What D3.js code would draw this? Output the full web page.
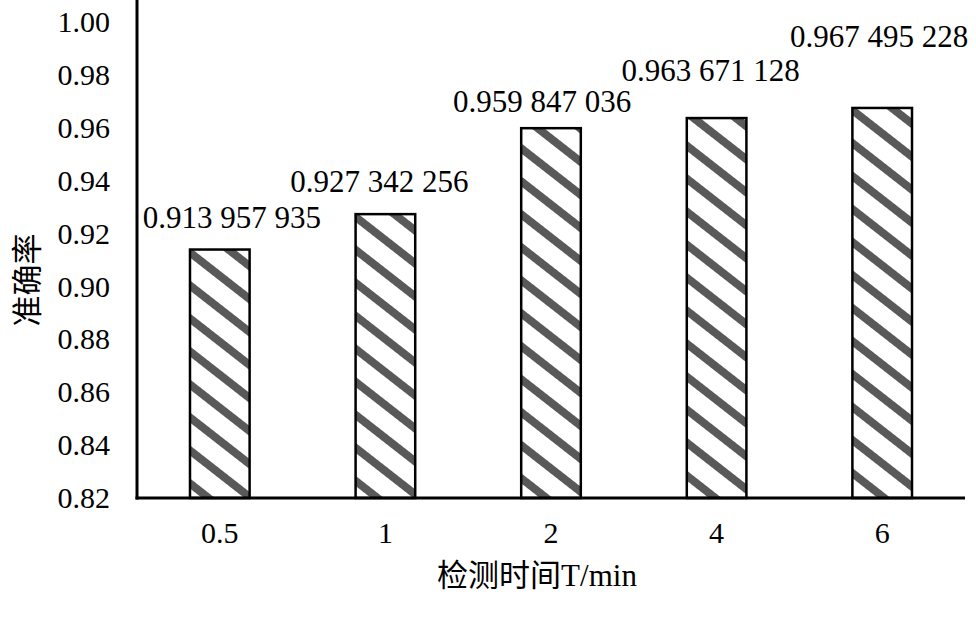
<!DOCTYPE html>
<html>
<head>
<meta charset="utf-8">
<script src="https://cdn.jsdelivr.net/npm/d3@7"></script>
<style>
  body { margin: 0; background: #fff; }
  text { font-family: "Liberation Serif", "Noto Sans CJK SC", serif; fill: #000; }
</style>
</head>
<body>
<div id="chart-area"></div>
<script>
// data
var times = ["0.5", "1", "2", "4", "6"];
var accuracy = [0.913957935, 0.927342256, 0.959847036, 0.963671128, 0.967495228];
var valueLabels = ["0.913 957 935", "0.927 342 256", "0.959 847 036", "0.963 671 128", "0.967 495 228"];
var yTicks = [0.82, 0.84, 0.86, 0.88, 0.90, 0.92, 0.94, 0.96, 0.98, 1.00];

// label nudges (px) as placed in the original figure
var labelDx = [12, -6, -9, -6, -3];
var labelDy = [-22, -22, -16, -37, -61];

var width = 976, height = 624;
var margins = { left: 137, right: 11, top: 22, bottom: 126 };

var svg = d3.select("#chart-area")
    .append("svg")
    .attr("width", width)
    .attr("height", height);

// hatch pattern
var pat = svg.append("defs")
    .append("pattern")
    .attr("id", "hatch")
    .attr("patternUnits", "userSpaceOnUse")
    .attr("width", 10)
    .attr("height", 26)
    .attr("patternTransform", "rotate(38)");
pat.append("rect").attr("width", 10).attr("height", 26).attr("fill", "#fff");
pat.append("rect").attr("width", 10).attr("height", 8).attr("fill", "#595959");

var x = d3.scaleBand()
    .domain(times)
    .range([margins.left, width - margins.right])
    .paddingInner(0.64)
    .paddingOuter(0.32);

var y = d3.scaleLinear()
    .domain([0.82, 1.00])
    .range([height - margins.bottom, margins.top]);

// bars
svg.selectAll(".bar")
    .data(accuracy)
    .enter()
    .append("rect")
    .attr("class", "bar")
    .attr("x", function(d, i) { return x(times[i]); })
    .attr("y", function(d) { return y(d); })
    .attr("width", x.bandwidth())
    .attr("height", function(d) { return y(0.82) - y(d); })
    .attr("fill", "url(#hatch)")
    .attr("stroke", "#000")
    .attr("stroke-width", 2.5);

// value labels
svg.selectAll(".vlabel")
    .data(accuracy)
    .enter()
    .append("text")
    .attr("class", "vlabel")
    .attr("x", function(d, i) { return x(times[i]) + x.bandwidth() / 2 + labelDx[i]; })
    .attr("y", function(d, i) { return y(d) + labelDy[i]; })
    .attr("text-anchor", "middle")
    .style("font-size", "31px")
    .text(function(d, i) { return valueLabels[i]; });

// y axis
var yAxis = svg.append("g")
    .attr("transform", "translate(" + margins.left + ",0)")
    .call(d3.axisLeft(y).tickValues(yTicks).tickFormat(d3.format(".2f")).tickSize(0).tickPadding(27));
yAxis.select(".domain").remove();
yAxis.selectAll("text")
    .style("font-size", "30px")
    .style("font-family", "Liberation Serif");

svg.append("line")
    .attr("x1", margins.left).attr("x2", margins.left)
    .attr("y1", 0).attr("y2", y(0.82) + 1.5)
    .attr("stroke", "#000")
    .attr("stroke-width", 3);

// x axis
var xAxis = svg.append("g")
    .attr("transform", "translate(0," + y(0.82) + ")")
    .call(d3.axisBottom(x).tickSize(0).tickPadding(24));
xAxis.select(".domain").remove();
xAxis.selectAll("text")
    .style("font-size", "30px")
    .style("font-family", "Liberation Serif");

svg.append("line")
    .attr("x1", margins.left - 1.5).attr("x2", width - margins.right)
    .attr("y1", y(0.82)).attr("y2", y(0.82))
    .attr("stroke", "#000")
    .attr("stroke-width", 3);

// axis titles
svg.append("text")
    .attr("transform", "translate(38,280) rotate(-90)")
    .attr("text-anchor", "middle")
    .style("font-size", "31px")
    .text("准确率");

svg.append("text")
    .attr("x", 537)
    .attr("y", 586)
    .attr("text-anchor", "middle")
    .style("font-size", "31px")
    .text("检测时间T/min");
</script>
</body>
</html>
